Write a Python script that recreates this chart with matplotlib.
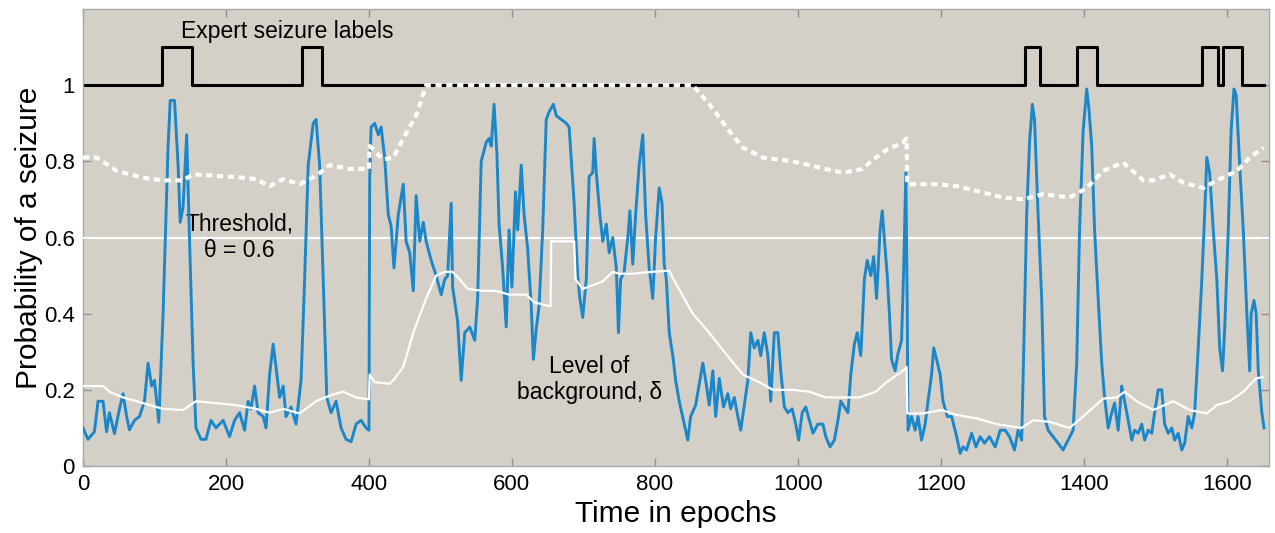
import matplotlib
matplotlib.use("Agg")
import matplotlib.pyplot as plt

plt.rcParams['font.family'] = ['Liberation Sans', 'DejaVu Sans']

# ---- data ----
prob_t = [0, 7, 16, 21, 28, 33, 37, 44, 51, 56, 61, 65, 72, 79, 86, 91, 96, 100, 106,
          112, 119, 122, 128, 133, 136, 140, 145, 148, 154, 158, 165, 172, 179, 186,
          196, 205, 212, 219, 226, 231, 235, 240, 245, 252, 256, 261, 266, 270, 275,
          280, 284, 291, 298, 305, 310, 315, 322, 326, 331, 336, 341, 347, 354, 361,
          368, 375, 382, 389, 396, 400, 401, 403, 408, 413, 417, 422, 427, 431, 435,
          441, 448, 452, 457, 462, 466, 471, 476, 480, 487, 494, 501, 506, 510, 515,
          517, 524, 529, 534, 541, 548, 552, 557, 564, 568, 571, 575, 579, 582, 587,
          592, 596, 600, 605, 608, 613, 617, 622, 627, 630, 634, 638, 643, 648, 652,
          658, 662, 669, 676, 680, 687, 692, 695, 699, 704, 708, 713, 715, 718, 723,
          727, 732, 736, 741, 746, 749, 752, 757, 762, 765, 769, 773, 778, 783, 787,
          792, 797, 801, 806, 810, 813, 816, 820, 825, 829, 834, 841, 846, 850, 857,
          867, 871, 876, 881, 885, 890, 896, 902, 906, 911, 916, 920, 925, 930, 934,
          939, 944, 948, 953, 958, 962, 967, 972, 976, 981, 986, 992, 997, 1001, 1006,
          1011, 1016, 1021, 1028, 1035, 1039, 1045, 1051, 1056, 1060, 1065, 1070, 1074,
          1079, 1083, 1088, 1093, 1097, 1102, 1106, 1110, 1115, 1118, 1122, 1125, 1128,
          1131, 1136, 1140, 1145, 1148, 1151, 1153, 1154, 1159, 1164, 1168, 1173, 1178,
          1182, 1187, 1190, 1194, 1199, 1203, 1209, 1215, 1221, 1227, 1231, 1236, 1243,
          1249, 1255, 1261, 1268, 1276, 1283, 1290, 1296, 1303, 1308, 1313, 1316, 1320,
          1324, 1328, 1331, 1336, 1341, 1345, 1350, 1357, 1364, 1371, 1378, 1385, 1390,
          1394, 1399, 1404, 1407, 1411, 1415, 1420, 1425, 1429, 1434, 1439, 1443, 1448,
          1453, 1457, 1462, 1467, 1471, 1476, 1481, 1485, 1490, 1495, 1499, 1504, 1509,
          1513, 1518, 1523, 1527, 1532, 1537, 1541, 1546, 1551, 1555, 1560, 1565, 1569,
          1572, 1576, 1581, 1586, 1590, 1594, 1597, 1602, 1606, 1610, 1613, 1618, 1623,
          1628, 1632, 1634, 1638, 1641, 1644, 1649, 1652]
prob_v = [0.10, 0.07, 0.09, 0.17, 0.17, 0.09, 0.14, 0.085, 0.15, 0.19, 0.13, 0.095, 0.12,
          0.13, 0.17, 0.27, 0.21, 0.225, 0.115, 0.40, 0.84, 0.96, 0.96, 0.79, 0.64, 0.68,
          0.87, 0.66, 0.27, 0.10, 0.07, 0.07, 0.12, 0.10, 0.12, 0.077, 0.12, 0.14, 0.094,
          0.17, 0.15, 0.21, 0.14, 0.13, 0.10, 0.24, 0.32, 0.26, 0.18, 0.21, 0.13, 0.155,
          0.11, 0.225, 0.49, 0.79, 0.90, 0.91, 0.79, 0.49, 0.18, 0.14, 0.17, 0.10, 0.07,
          0.064, 0.11, 0.12, 0.10, 0.094, 0.75, 0.89, 0.90, 0.87, 0.89, 0.81, 0.66, 0.63,
          0.52, 0.66, 0.74, 0.59, 0.56, 0.46, 0.71, 0.59, 0.64, 0.59, 0.54, 0.50, 0.45,
          0.49, 0.50, 0.69, 0.47, 0.38, 0.225, 0.35, 0.365, 0.33, 0.44, 0.80, 0.85, 0.86,
          0.84, 0.95, 0.82, 0.635, 0.52, 0.365, 0.62, 0.47, 0.72, 0.62, 0.79, 0.66, 0.57,
          0.42, 0.28, 0.36, 0.42, 0.62, 0.91, 0.93, 0.95, 0.92, 0.91, 0.90, 0.89, 0.69,
          0.50, 0.44, 0.39, 0.49, 0.76, 0.77, 0.86, 0.77, 0.66, 0.59, 0.635, 0.56, 0.60,
          0.52, 0.35, 0.49, 0.51, 0.60, 0.67, 0.53, 0.66, 0.79, 0.87, 0.66, 0.52, 0.44,
          0.60, 0.73, 0.69, 0.53, 0.49, 0.35, 0.29, 0.225, 0.17, 0.11, 0.068, 0.13, 0.16,
          0.27, 0.225, 0.16, 0.25, 0.13, 0.23, 0.155, 0.19, 0.15, 0.18, 0.13, 0.094, 0.16,
          0.225, 0.35, 0.31, 0.33, 0.29, 0.35, 0.29, 0.17, 0.35, 0.35, 0.25, 0.155, 0.14,
          0.15, 0.11, 0.068, 0.14, 0.155, 0.12, 0.086, 0.11, 0.11, 0.077, 0.05, 0.068,
          0.12, 0.17, 0.155, 0.14, 0.24, 0.32, 0.35, 0.29, 0.49, 0.54, 0.50, 0.55, 0.44,
          0.62, 0.67, 0.57, 0.50, 0.40, 0.28, 0.25, 0.295, 0.33, 0.52, 0.77, 0.40, 0.094,
          0.13, 0.094, 0.13, 0.068, 0.11, 0.17, 0.24, 0.31, 0.28, 0.24, 0.17, 0.13, 0.13,
          0.086, 0.033, 0.05, 0.042, 0.086, 0.05, 0.077, 0.06, 0.077, 0.05, 0.094, 0.094,
          0.077, 0.042, 0.094, 0.068, 0.31, 0.66, 0.85, 0.95, 0.91, 0.66, 0.44, 0.13,
          0.094, 0.077, 0.06, 0.042, 0.068, 0.094, 0.27, 0.62, 0.88, 0.99, 0.94, 0.84,
          0.62, 0.44, 0.27, 0.18, 0.10, 0.14, 0.165, 0.094, 0.21, 0.17, 0.12, 0.068,
          0.094, 0.086, 0.11, 0.068, 0.094, 0.086, 0.14, 0.20, 0.20, 0.11, 0.086, 0.10,
          0.068, 0.086, 0.042, 0.06, 0.13, 0.10, 0.14, 0.31, 0.49, 0.66, 0.81, 0.77, 0.62,
          0.49, 0.31, 0.25, 0.36, 0.62, 0.88, 0.99, 0.975, 0.79, 0.62, 0.40, 0.25, 0.40,
          0.435, 0.40, 0.25, 0.14, 0.10]

bg_t = [0, 19, 28, 37, 56, 75, 93, 112, 140, 158, 186, 214, 242, 261, 280, 303, 326, 345,
        364, 382, 400, 401, 408, 429, 434, 448, 462, 480, 494, 506, 517, 527, 538, 559,
        578, 596, 620, 631, 652, 654, 655, 687, 689, 699, 727, 741, 750, 769, 797, 820,
        829, 853, 876, 899, 923, 946, 965, 993, 1016, 1039, 1063, 1086, 1109, 1124, 1147,
        1152, 1153, 1175, 1201, 1222, 1250, 1278, 1313, 1329, 1352, 1380, 1399, 1427,
        1446, 1457, 1474, 1497, 1525, 1548, 1572, 1586, 1604, 1623, 1641, 1651]
bg_v = [0.21, 0.21, 0.21, 0.195, 0.18, 0.17, 0.16, 0.15, 0.147, 0.17, 0.165, 0.16, 0.15,
        0.14, 0.15, 0.138, 0.17, 0.185, 0.195, 0.18, 0.175, 0.24, 0.22, 0.216, 0.225,
        0.26, 0.35, 0.44, 0.50, 0.51, 0.51, 0.49, 0.465, 0.46, 0.46, 0.45, 0.45, 0.43,
        0.42, 0.42, 0.59, 0.59, 0.49, 0.465, 0.485, 0.51, 0.505, 0.505, 0.51, 0.513,
        0.48, 0.40, 0.35, 0.295, 0.24, 0.22, 0.20, 0.20, 0.195, 0.18, 0.18, 0.18, 0.195,
        0.22, 0.25, 0.26, 0.138, 0.138, 0.147, 0.134, 0.125, 0.11, 0.10, 0.12, 0.116,
        0.10, 0.13, 0.177, 0.18, 0.195, 0.17, 0.147, 0.17, 0.147, 0.138, 0.16, 0.17,
        0.195, 0.23, 0.234]

thr_t = [0, 19, 47, 84, 112, 140, 154, 186, 224, 242, 261, 280, 303, 326, 345, 373, 400,
         401, 420, 434, 448, 466, 480, 853, 876, 904, 923, 951, 993, 1039, 1063, 1090,
         1109, 1124, 1147, 1152, 1153, 1194, 1222, 1255, 1287, 1315, 1343, 1380, 1404,
         1427, 1455, 1483, 1497, 1520, 1539, 1567, 1586, 1614, 1632, 1651]
thr_v = [0.81, 0.81, 0.775, 0.757, 0.75, 0.75, 0.766, 0.762, 0.757, 0.753, 0.735, 0.753,
         0.74, 0.762, 0.79, 0.78, 0.78, 0.84, 0.805, 0.81, 0.86, 0.92, 1.0, 1.0, 0.95,
         0.88, 0.836, 0.81, 0.80, 0.78, 0.77, 0.78, 0.81, 0.83, 0.85, 0.86, 0.74, 0.74,
         0.735, 0.72, 0.705, 0.70, 0.714, 0.705, 0.73, 0.775, 0.797, 0.75, 0.75, 0.766,
         0.744, 0.73, 0.75, 0.775, 0.81, 0.836]

# expert seizure labels (start, end) in epochs
seizure_on = [111, 307, 1318, 1391, 1565, 1595]
seizure_off = [153, 334, 1338, 1419, 1587, 1621]
label_end = 1652
fixed_threshold = 0.6

# build step trace for expert labels
lab_t = [0]
lab_v = [1.0]
for a, b in zip(seizure_on, seizure_off):
    lab_t += [a, a, b, b]
    lab_v += [1.0, 1.1, 1.1, 1.0]
lab_t.append(label_end)
lab_v.append(1.0)

fig = plt.figure(figsize=(12.75, 5.33), dpi=100)
ax = fig.add_axes([0.0651, 0.1257, 0.9302, 0.8574])
ax.set_facecolor('#d4d0c8')

ax.plot(lab_t, lab_v, color='black', lw=2.2, zorder=2)
ax.axhline(fixed_threshold, color='white', lw=1.6, zorder=3)
ax.plot(prob_t, prob_v, color='#1b87c9', lw=2.1, zorder=4)
ax.plot(bg_t, bg_v, color='white', lw=1.6, zorder=5)
ax.plot(thr_t, thr_v, color='white', lw=3.0, linestyle=(0, (1.5, 1.1)), zorder=6)

ax.set_xlim(0, 1659)
ax.set_ylim(0, 1.2)
ax.set_xticks(range(0, 1601, 200))
ax.set_yticks([0, 0.2, 0.4, 0.6, 0.8, 1.0])
ax.set_yticklabels(['0', '0.2', '0.4', '0.6', '0.8', '1'])
ax.tick_params(direction='in', length=6, width=1, color='#909090',
               top=True, right=True, labelsize=16, pad=6)
for s in ax.spines.values():
    s.set_color('#a8a8a8')
    s.set_linewidth(1)

ax.set_xlabel('Time in epochs', fontsize=21.5, labelpad=3)
ax.set_ylabel('Probability of a seizure', fontsize=21.5, labelpad=0.5)

ax.text(286, 1.141, 'Expert seizure labels', fontsize=16.5, ha='center', va='center')
ax.text(219, 0.60, 'Threshold,\n\u03b8 = 0.6', fontsize=16.5, ha='center', va='center',
        linespacing=1.15)
ax.text(708, 0.228, 'Level of\nbackground, \u03b4', fontsize=16.5, ha='center',
        va='center', linespacing=1.15)

fig.savefig('out.png', dpi=100)
